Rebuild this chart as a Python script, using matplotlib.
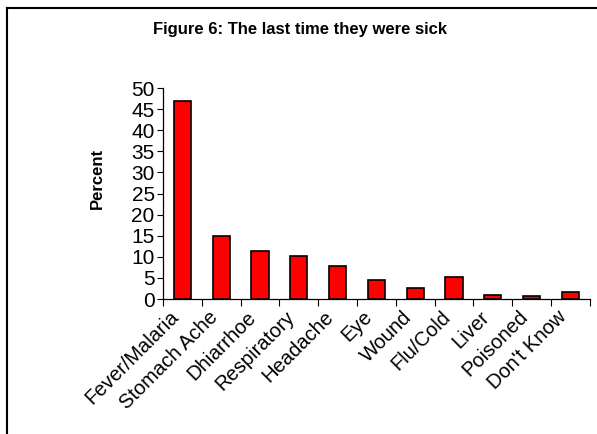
import matplotlib
matplotlib.use("Agg")
import matplotlib.pyplot as plt
from matplotlib.lines import Line2D
import numpy as np

plt.rcParams['font.family'] = ['Liberation Sans', 'DejaVu Sans']

categories = ["Fever/Malaria", "Stomach Ache", "Dhiarrhoe", "Respiratory", "Headache",
              "Eye", "Wound", "Flu/Cold", "Liver", "Poisoned", "Don't Know"]
percent = [47, 15, 11.4, 10.2, 7.8, 4.6, 2.7, 5.3, 1.0, 0.7, 1.6]
y_ticks = [0, 5, 10, 15, 20, 25, 30, 35, 40, 45, 50]

fig = plt.figure(figsize=(5.97, 4.34), dpi=100)
ax = fig.add_axes([0.273, 0.311, 0.715, 0.486])

x = np.arange(len(categories))
ax.bar(x, percent, width=0.44, color="#ff0000", edgecolor="black", linewidth=1.2, zorder=3)

ax.set_xlim(-0.5, len(categories) - 0.5)
ax.set_ylim(0, 50)
ax.set_yticks(y_ticks)
ax.tick_params(axis='y', direction='out', length=4, width=0.8, labelsize=15, pad=2)

ax.set_xticks(x)
ax.set_xticklabels(categories, rotation=45, ha='right', va='top', fontsize=14.5)
ax.tick_params(axis='x', which='major', length=0, pad=6)
ax.set_xticks(np.arange(-0.5, len(categories)), minor=True)
ax.tick_params(axis='x', which='minor', direction='out', length=5, width=0.8)

for side in ("top", "right"):
    ax.spines[side].set_visible(False)
for side in ("left", "bottom"):
    ax.spines[side].set_linewidth(0.9)

fig.text(0.503, 0.931, "Figure 6: The last time they were sick", ha='center', va='center',
         fontsize=12, fontweight='bold')
fig.text(0.163, 0.59, "Percent", rotation=90, ha='center', va='center',
         fontsize=12, fontweight='bold')

# outer chart frame (left and top edges)
fig.add_artist(Line2D([0.0117, 0.0117], [0.0, 0.982], transform=fig.transFigure,
                      color='black', linewidth=1.5))
fig.add_artist(Line2D([0.0117, 1.0], [0.982, 0.982], transform=fig.transFigure,
                      color='black', linewidth=1.5))

fig.savefig("out.png", dpi=100)
